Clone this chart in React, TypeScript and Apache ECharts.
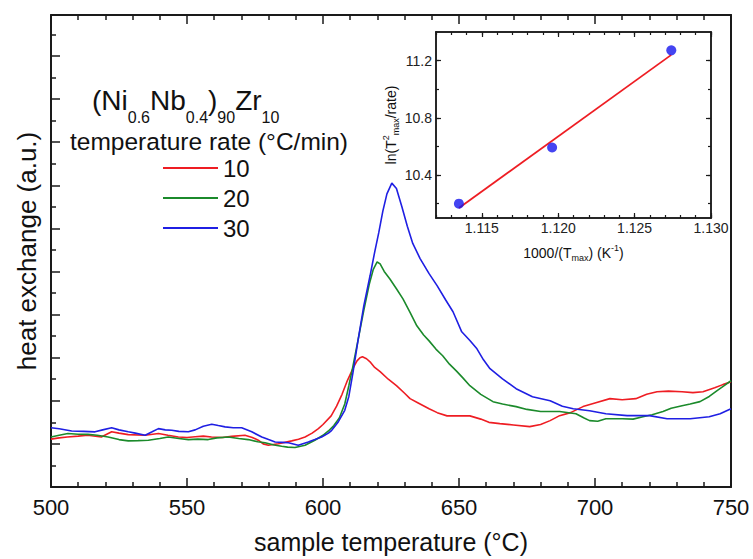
import React, { useEffect, useRef } from 'react';
import * as echarts from 'echarts';

// main DSC curves: [sample temperature °C, heat exchange (a.u.)]
const rate10: [number, number][] = [
  [500, 2.22], [503, 2.28], [506, 2.32], [510, 2.36], [513.5, 2.4], [518.5, 2.32], [522.3, 2.56], [525, 2.5],
  [528.4, 2.43], [534.6, 2.4], [539.5, 2.48], [543, 2.4], [546.8, 2.32], [550, 2.3], [553, 2.33], [556, 2.36],
  [559, 2.32], [563, 2.3], [566.4, 2.35], [571.3, 2.4], [574, 2.3], [576.2, 2.17], [578, 2.0], [579.9, 1.94],
  [583.6, 2.01], [588.5, 2.14], [591, 2.22], [593.4, 2.32], [596, 2.5], [598.3, 2.71], [600, 2.9], [603, 3.3],
  [605, 3.75], [607, 4.3], [609, 4.95], [611, 5.5], [612.5, 5.85], [613.6, 6.0], [614.5, 6.04], [616, 5.95],
  [617.5, 5.78], [619, 5.55], [621, 5.35], [624, 5.0], [627, 4.7], [630, 4.35], [632, 4.1], [635, 3.9], [639, 3.63],
  [642, 3.45], [645.6, 3.3], [650, 3.3], [654, 3.3], [658, 3.15], [661, 3.0], [665, 2.94], [670, 2.88],
  [676, 2.8], [680, 2.9], [683.5, 3.08], [687, 3.31], [691, 3.45], [695.6, 3.73], [700, 3.9], [705.5, 4.1],
  [710, 4.05], [715, 4.1], [719, 4.3], [722.8, 4.42], [727, 4.45], [732, 4.42], [736, 4.38], [739.7, 4.42],
  [744, 4.6], [747, 4.75], [750, 4.88],
];
const rate20: [number, number][] = [
  [500, 2.32], [503, 2.4], [506.2, 2.48], [510, 2.45], [513.6, 2.44], [517, 2.4], [521, 2.32], [525, 2.2],
  [528.4, 2.14], [532, 2.15], [535.8, 2.17], [540, 2.25], [543.1, 2.32], [547, 2.25], [550.5, 2.2], [554, 2.22],
  [557.8, 2.2], [561, 2.28], [565.2, 2.32], [569, 2.25], [572.5, 2.2], [576, 2.1], [578.7, 2.05], [582, 1.95],
  [584.8, 1.89], [587, 1.85], [589.7, 1.83], [593.4, 1.94], [597, 2.17], [600, 2.4], [602, 2.6], [604, 2.85],
  [606, 3.2], [608, 3.85], [609.5, 4.7], [611, 5.6], [613, 6.9], [615, 8.2], [617, 9.4], [618.5, 10.1],
  [619.9, 10.44], [621, 10.35], [622.5, 10.0], [624.6, 9.65], [627, 9.2], [629.4, 8.73], [632, 8.1], [634.5, 7.48],
  [637, 7.05], [639, 6.78], [641.5, 6.4], [644, 6.09], [646.5, 5.7], [649, 5.39], [651.5, 5.05], [654, 4.7],
  [658, 4.3], [662.5, 3.96], [666, 3.85], [671, 3.73], [675, 3.6], [680, 3.5], [687, 3.5], [693, 3.4],
  [696, 3.2], [698, 3.08], [701, 3.05], [704, 3.17], [710, 3.17], [714, 3.15], [717.6, 3.26], [721, 3.35],
  [725, 3.5], [728, 3.65], [732, 3.77], [735, 3.85], [738.6, 3.96], [742, 4.2], [744.9, 4.47], [747.5, 4.7],
  [750, 4.93],
];
const rate30: [number, number][] = [
  [500, 2.75], [503, 2.7], [507.6, 2.6], [512, 2.58], [516.2, 2.56], [519, 2.65], [522.3, 2.75], [525, 2.65],
  [528.4, 2.56], [531, 2.5], [534.6, 2.4], [537, 2.55], [539.5, 2.71], [542, 2.65], [544.4, 2.63], [547, 2.58],
  [550.5, 2.56], [553, 2.65], [556, 2.82], [559.1, 2.91], [561.5, 2.85], [564, 2.79], [567, 2.75], [570.1, 2.75],
  [573.8, 2.56], [577.5, 2.32], [580, 2.2], [582.4, 2.09], [585, 2.07], [587.3, 2.05], [590.9, 1.94], [594.6, 2.09],
  [597, 2.2], [599.5, 2.32], [602, 2.5], [603.2, 2.63], [605.6, 3.02], [608, 3.56], [609.5, 4.2], [611, 5.3],
  [613, 6.9], [615, 8.4], [617.3, 9.8], [619, 10.9], [620.5, 11.8], [622, 12.8], [623.5, 13.6], [625.3, 14.1],
  [627, 13.85], [629, 13.0], [631, 12.1], [633, 11.3], [635.7, 10.6], [639, 9.9], [642, 9.33], [645, 8.7],
  [647.8, 8.13], [651, 7.2], [654, 6.8], [656.6, 6.41], [659, 5.9], [661.4, 5.49], [666, 5.02], [671, 4.56],
  [677, 4.19], [683.5, 4.0], [688, 3.75], [692, 3.63], [698, 3.54], [704, 3.4], [711.8, 3.31], [720, 3.31],
  [726.5, 3.17], [735, 3.17], [742, 3.26], [746, 3.4], [750, 3.63],
];
const rateNames = ['10', '20', '30'];
const rateColors = ['#ee1d23', '#1b8a2b', '#1f1fe3'];

// inset: Kissinger plot
const insetX = [1.1135, 1.1196, 1.1274];
const insetY = [10.2, 10.593, 11.272];
const fitX = [1.1135, 1.1274];
const fitY = [10.17, 11.24];
const insetXMajor = [1.115, 1.12, 1.125, 1.13];
const insetYMajor = [10.4, 10.8, 11.2];
const insetYMinor = [10.2, 10.4, 10.6, 10.8, 11.0, 11.2];

const AX = '#1a1a1a';
const FONT = 'Liberation Sans, Arial, Helvetica, sans-serif';

export default function App() {
  const ref = useRef<HTMLDivElement>(null);
  useEffect(() => {
    document.body.style.margin = '0';
    if (!ref.current) return;
    const chart = echarts.init(ref.current, undefined, { renderer: 'svg' });
    const line = { show: true, onZero: false, lineStyle: { color: AX, width: 2 } };
    const insetLine = { show: true, onZero: false, lineStyle: { color: AX, width: 1.5 } };
    const noSplit = { show: false };
    const mainX = (pos: string, labels: boolean, name?: string) => ({
      gridIndex: 0, type: 'value', position: pos, min: 500, max: 750, interval: 50,
      axisLine: line,
      axisTick: { show: true, inside: true, length: 9, lineStyle: { color: AX, width: 1.5 } },
      minorTick: { show: true, splitNumber: 5, length: 5, lineStyle: { color: AX, width: 1.5 } },
      axisLabel: { show: labels, fontSize: 22, color: '#111', margin: 9, fontFamily: FONT },
      splitLine: noSplit, minorSplitLine: noSplit,
      name: name, nameLocation: 'middle', nameGap: 42,
      nameTextStyle: { fontSize: 25, color: '#111', fontFamily: FONT },
    });
    const insetRich = {
      a: { fontSize: 14, color: '#111', fontFamily: FONT, verticalAlign: 'top', padding: [3, 0, 0, 0] },
      sub: { fontSize: 9, color: '#111', fontFamily: FONT, verticalAlign: 'top', padding: [10.5, 0, 0, 0] },
      sup: { fontSize: 9, color: '#111', fontFamily: FONT, verticalAlign: 'top', padding: [0.5, 0, 0, 0] },
    };
    const insetXAxis = (grid: number, pos: string, major: boolean, labels: boolean) => ({
      gridIndex: grid, type: 'value', position: pos, min: 1.112, max: 1.13,
      ...(major ? {} : { interval: 0.001 }),
      axisLine: insetLine,
      axisTick: major
        ? { show: true, inside: true, length: 5, customValues: insetXMajor, lineStyle: { color: AX, width: 1.2 } }
        : { show: true, inside: true, length: 3, lineStyle: { color: AX, width: 1.2 } },
      axisLabel: labels
        ? { show: true, customValues: insetXMajor, formatter: (v: number) => v.toFixed(3), fontSize: 14, color: '#222', margin: 3, fontFamily: FONT }
        : { show: false },
      splitLine: noSplit,
      ...(labels ? {
        name: '{a|1000/(T}{sub|max}{a|) (K}{sup|-1}{a|)}', nameLocation: 'middle', nameGap: 25,
        nameTextStyle: { rich: insetRich },
      } : {}),
    });
    const insetYAxis = (grid: number, pos: string, major: boolean, labels: boolean) => ({
      gridIndex: grid, type: 'value', position: pos, min: 10.1, max: 11.4,
      axisLine: insetLine,
      axisTick: { show: true, inside: true, length: major ? 5 : 3, customValues: major ? insetYMajor : insetYMinor, lineStyle: { color: AX, width: 1.2 } },
      axisLabel: labels
        ? { show: true, customValues: insetYMajor, formatter: (v: number) => v.toFixed(1), fontSize: 14, color: '#222', margin: 4, fontFamily: FONT }
        : { show: false },
      splitLine: noSplit,
      ...(labels ? {
        name: '{a|ln(T}{sup|2}{sub|max}{a|/rate)}', nameLocation: 'middle', nameGap: 34,
        nameTextStyle: { rich: insetRich },
      } : {}),
    });

    const option: any = {
      animation: false,
      backgroundColor: '#fff',
      textStyle: { fontFamily: FONT },
      title: [
        {
          text: '{a|(Ni}{s|0.6}{a|Nb}{s|0.4}{a|)}{s|90}{a|Zr}{s|10}',
          left: 92, top: 86.5, padding: 0,
          textStyle: {
            fontWeight: 'normal',
            rich: {
              a: { fontSize: 28, fontWeight: 'normal', color: '#111', fontFamily: FONT, verticalAlign: 'top' },
              s: { fontSize: 16, fontWeight: 'normal', color: '#111', fontFamily: FONT, verticalAlign: 'top', padding: [23, 0, 0, 0] },
            },
          },
        },
        {
          text: 'temperature rate (°C/min)', left: 70, top: 128.5, padding: 0,
          textStyle: { fontSize: 24.5, fontWeight: 'normal', color: '#111', fontFamily: FONT },
        },
      ],
      legend: {
        data: rateNames, orient: 'vertical', left: 163, top: 156, padding: 0,
        icon: 'rect', itemWidth: 55, itemHeight: 2, itemGap: 6,
        textStyle: { fontSize: 24, color: '#111', fontFamily: FONT, padding: [0, 0, 0, 0] },
      },
      grid: [
        { left: 51, top: 15, right: 22, bottom: 70 },
        { left: 436, top: 32, width: 275, height: 186 },
        { left: 436, top: 32, width: 275, height: 186 },
      ],
      xAxis: [
        mainX('bottom', true, 'sample temperature (°C)'),
        mainX('top', false),
        insetXAxis(1, 'bottom', true, true),
        insetXAxis(1, 'top', true, false),
        insetXAxis(2, 'bottom', false, false),
        insetXAxis(2, 'top', false, false),
      ],
      yAxis: [
        {
          gridIndex: 0, type: 'value', position: 'left', min: 0, max: 21.9, interval: 2,
          axisLine: line,
          axisTick: { show: true, inside: true, length: 9, lineStyle: { color: AX, width: 1.5 } },
          minorTick: { show: true, splitNumber: 2, length: 5, lineStyle: { color: AX, width: 1.5 } },
          axisLabel: { show: false }, splitLine: noSplit, minorSplitLine: noSplit,
          name: 'heat exchange (a.u.)', nameLocation: 'middle', nameGap: 11,
          nameTextStyle: { fontSize: 26, color: '#111', fontFamily: FONT },
        },
        {
          gridIndex: 0, type: 'value', position: 'right', min: 0, max: 21.9,
          axisLine: line, axisTick: { show: false }, axisLabel: { show: false }, splitLine: noSplit,
        },
        insetYAxis(1, 'left', true, true),
        insetYAxis(1, 'right', true, false),
        insetYAxis(2, 'left', false, false),
        insetYAxis(2, 'right', false, false),
      ],
      series: [
        ...[rate10, rate20, rate30].map((d, i) => ({
          type: 'line', name: rateNames[i], data: d, xAxisIndex: 0, yAxisIndex: 0,
          color: rateColors[i], symbol: 'none', showSymbol: false,
          lineStyle: { width: 1.6, color: rateColors[i] }, z: 3,
        })),
        {
          type: 'line', name: 'fit', data: fitX.map((x, i) => [x, fitY[i]]), xAxisIndex: 2, yAxisIndex: 2,
          color: '#ee1d23', symbol: 'none', lineStyle: { width: 1.8, color: '#ee1d23' }, z: 3,
        },
        {
          type: 'scatter', name: 'points', data: insetX.map((x, i) => [x, insetY[i]]), xAxisIndex: 2, yAxisIndex: 2,
          symbolSize: 10, itemStyle: { color: '#1515ee' }, z: 4,
        },
      ],
    };
    chart.setOption(option);
    return () => chart.dispose();
  }, []);
  return <div ref={ref} style={{ width: 753, height: 559 }} />;
}
